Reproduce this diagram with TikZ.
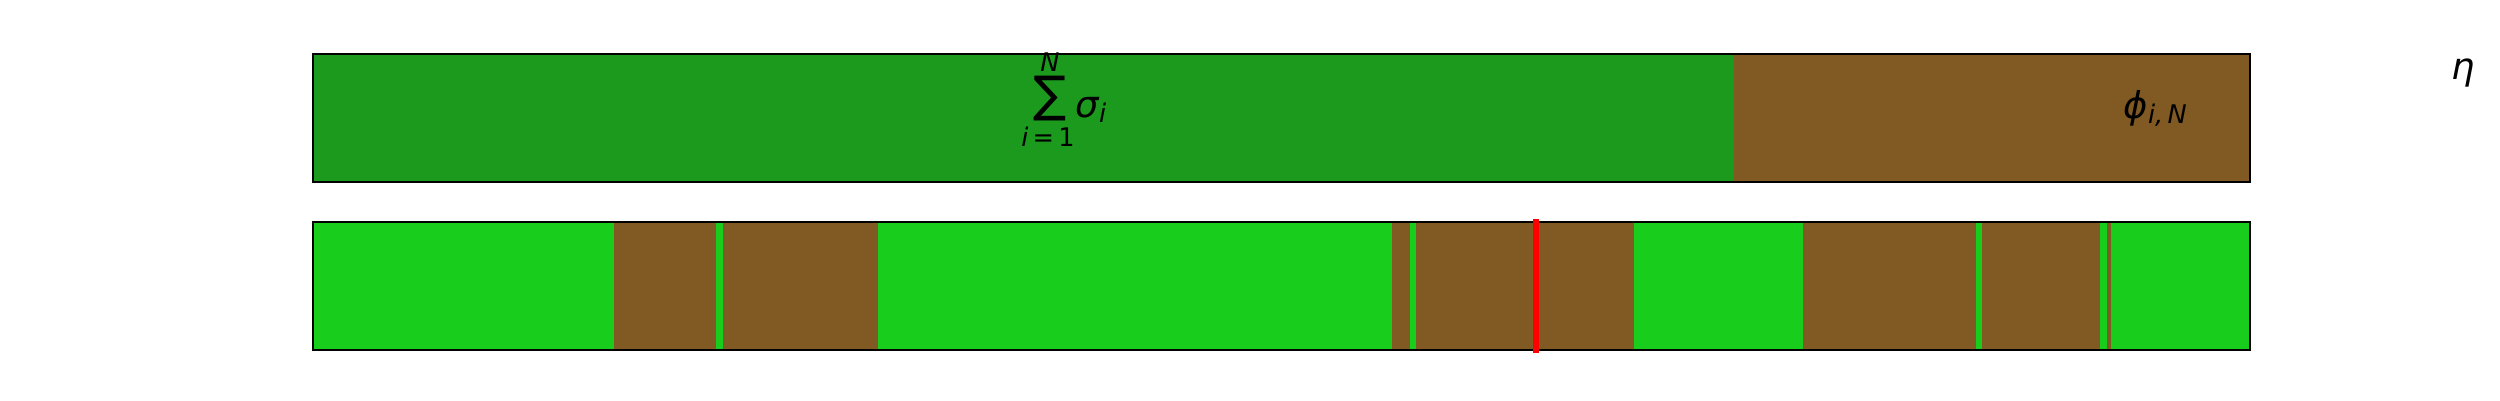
\documentclass[tikz,border=0pt]{standalone}
\usepackage{fontspec}
\usepackage{tikz}
\usetikzlibrary{calc}

\newfontfamily\dvs{DejaVu Sans}

\definecolor{sumgreen}{RGB}{28,154,30}
\definecolor{brightgreen}{RGB}{24,205,28}
\definecolor{soilbrown}{RGB}{128,90,34}

\tikzset{lbl/.style={inner sep=0pt, font=\dvs\fontsize{10.5}{12}\selectfont},
	sublbl/.style={inner sep=0pt, font=\dvs\fontsize{7.3}{8}\selectfont}}
\newcommand{\lowsub}[1]{\raisebox{-1.6pt}{\fontsize{7.3}{8}\selectfont #1}}

\begin{document}
\begin{tikzpicture}
\useasboundingbox (0,0) rectangle (25,4);

%bar corners
\coordinate (tl) at (3.13,3.46);	%top bar, top left
\coordinate (tr) at (22.50,2.18);	%top bar, bottom right
\coordinate (ts) at (17.34,2.18);	%top bar, split
\coordinate (bl) at (3.13,1.78);	%bottom bar, top left
\coordinate (br) at (22.50,0.50);	%bottom bar, bottom right
\coordinate (rt) at (15.36,1.81);	%red marker top
\coordinate (rb) at (15.36,0.47);	%red marker bottom

%top bar
\fill[sumgreen] (tl) rectangle (ts);
\fill[soilbrown] (ts) rectangle (tl -| tr);
\draw[line width=0.6pt] (tl) rectangle (tr);

%bottom bar
\fill[brightgreen] (bl) rectangle (br);
\foreach \a/\b in {6.14/7.16, 7.23/8.78, 13.92/14.10, 14.16/16.34, 18.03/19.76, 19.82/21.00, 21.07/21.11}
	\fill[soilbrown] (\a,0.50) rectangle (\b,1.78);
\draw[line width=0.6pt] (bl) rectangle (br);

%marker
\draw[red, line width=1.7pt] (rt) -- (rb);

%labels
\node[lbl, font=\dvs\fontsize{14}{14}\selectfont] (sum) at (10.50,3.01) {∑};
\node[sublbl] (sumtop) at (10.50,3.38) {\itshape N};
\node[sublbl] (sumbot) at (10.48,2.63) {\itshape i\upshape\,=\,1};
\node[lbl, anchor=base west] (sigma) at (10.75,2.83) {\itshape σ\lowsub{i}};
\node[lbl, anchor=base west] (phi) at (21.23,2.82) {\itshape ϕ\lowsub{i,\,N}};
\node[lbl, anchor=base west] (eta) at (24.51,3.21) {\itshape η};

\end{tikzpicture}
\end{document}
